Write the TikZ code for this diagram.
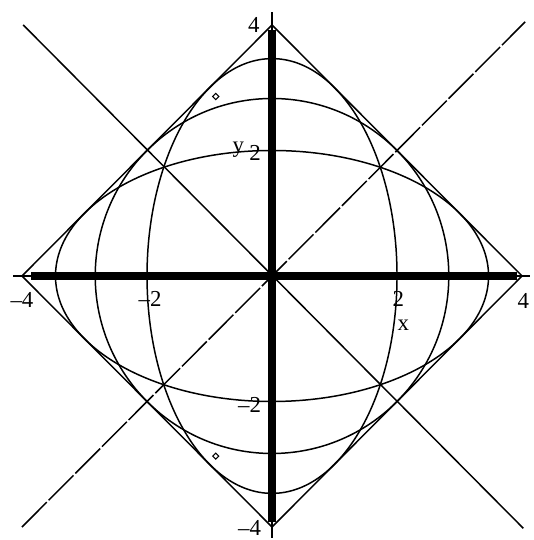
\documentclass[tikz,border=0pt]{standalone}
\usepackage{fontspec}
\setmainfont{Liberation Serif}
\usetikzlibrary{shapes.geometric}
\begin{document}
\begin{tikzpicture}[x=1.25cm,y=1.255cm,
  curve/.style={line width=0.85pt,black},
  bisect/.style={line width=0.85pt,black},
  thickaxis/.style={line width=4.6pt,black},
  thinaxis/.style={line width=0.8pt,black},
  lbl/.style={font=\fontsize{13}{15}\selectfont,inner sep=0pt},
  mark diamond/.style={diamond,draw,line width=0.6pt,inner sep=0pt,minimum width=0.13cm,minimum height=0.13cm}]
\useasboundingbox (-4.352,-4.207) rectangle (4.176,4.398);
% axes
\draw[thinaxis] (-4.14,0) -- (4.13,0);
\draw[thinaxis] (0,-4.17) -- (0,4.21);
\draw[thickaxis] (-3.85,0) -- (3.92,0);
\draw[thickaxis] (0,-3.92) -- (0,3.92);
% diamond |x|+|y|=4
\draw[curve] (4,0) -- (0,4) -- (-4,0) -- (0,-4) -- cycle;
% ellipses x^2/a^2 + y^2/(16-a^2) = 1
\draw[curve] (0,0) ellipse [x radius=3.4641, y radius=2];
\draw[curve] (0,0) circle [x radius=2.8284, y radius=2.8284];
\draw[curve] (0,0) ellipse [x radius=2, y radius=3.4641];
% lines y=x and y=-x
\draw[bisect,dash pattern=on 20pt off 1.5pt] (-4,-4) -- (4.05,4.05);
\draw[bisect] (-3.98,4) -- (4.02,-4.02);
% markers
\node[mark diamond] (m1) at (-0.9,2.86) {};
\node[mark diamond] (m2) at (-0.9,-2.87) {};
% labels
\node[lbl] (xm4) at (-4.0,-0.38) {–4};
\node[lbl] (xm2) at (-1.95,-0.36) {–2};
\node[lbl] (xp2) at (2.02,-0.36) {2};
\node[lbl] (xp4) at (4.02,-0.40) {4};
\node[lbl] (xl) at (2.1,-0.78) {x};
\node[lbl] (yp4) at (-0.29,4.0) {4};
\node[lbl] (yp2) at (-0.27,1.96) {2};
\node[lbl] (yl) at (-0.54,2.02) {y};
\node[lbl] (ym2) at (-0.36,-2.05) {–2};
\node[lbl] (ym4) at (-0.36,-4.02) {–4};
\end{tikzpicture}
\end{document}
